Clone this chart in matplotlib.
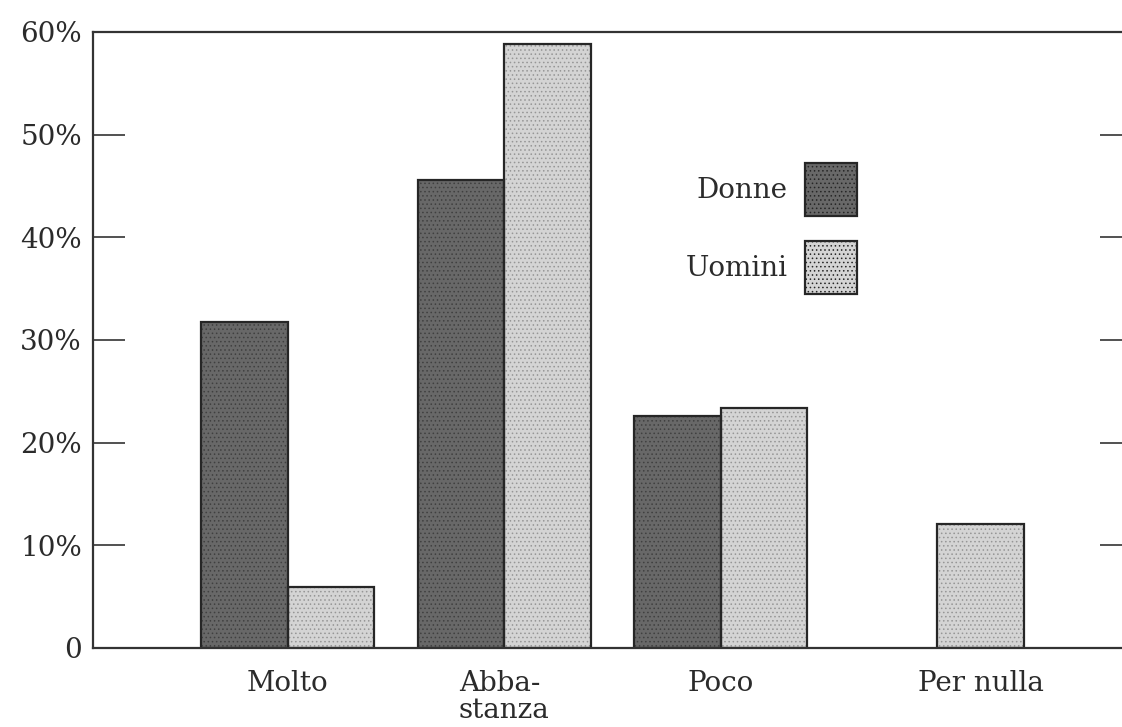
import matplotlib.pyplot as plt
import matplotlib.patches as mpatches
import numpy as np

# Dati
categorie = ["Molto", "Abba-\nstanza", "Poco", "Per nulla"]
donne = [31.8, 45.6, 22.6, 0.0]
uomini = [5.9, 58.8, 23.4, 12.1]
pos_etichette = [0, 1, 2, 3.2]   # "Per nulla" sta sotto la barra degli uomini
yticks = [0, 10, 20, 30, 40, 50, 60]
ytick_labels = ["0", "10%", "20%", "30%", "40%", "50%", "60%"]

plt.rcParams['font.family'] = ['DejaVu Serif']
plt.rcParams['font.size'] = 20
plt.rcParams['hatch.linewidth'] = 0.6

fig = plt.figure(figsize=(11.22, 7.27), dpi=100)
ax = fig.add_axes([93 / 1122, 79 / 727, 1039 / 1122, 616 / 727])

x = np.arange(len(categorie))
w = 0.4
col_donne, dot_donne = '#686868', '#404040'
col_uomini, dot_uomini = '#d4d4d4', '#969696'

# riempimento puntinato
ax.bar(x - w / 2, donne, w, color=col_donne, edgecolor=dot_donne, hatch='....', linewidth=0)
ax.bar(x + w / 2, uomini, w, color=col_uomini, edgecolor=dot_uomini, hatch='....', linewidth=0)
# contorni
for xi, v in zip(x - w / 2, donne):
    if v > 0:
        ax.bar(xi, v, w, facecolor='none', edgecolor='#262626', linewidth=1.6)
ax.bar(x + w / 2, uomini, w, facecolor='none', edgecolor='#262626', linewidth=1.6)

ax.set_xlim(-0.9, 3.9)
ax.set_ylim(0, 60)

ax.set_yticks(yticks)
ax.set_yticklabels(ytick_labels)
ax.tick_params(axis='y', direction='in', length=23, width=1.2, color='#333333',
               right=True, pad=8, labelcolor='#2b2b2b')
ax.set_xticks(pos_etichette)
ax.set_xticklabels(categorie, linespacing=1.0)
ax.tick_params(axis='x', length=0, pad=16, labelcolor='#2b2b2b')
for t in ax.get_xticklabels():
    t.set_multialignment('left')

for s in ax.spines.values():
    s.set_linewidth(1.6)
    s.set_color('#333333')

# legenda
h1 = mpatches.Patch(facecolor=col_donne, edgecolor='#262626', hatch='....', linewidth=1.6)
h2 = mpatches.Patch(facecolor=col_uomini, edgecolor='#262626', hatch='....', linewidth=1.6)
ax.legend([h1, h2], ["Donne", "Uomini"], loc='upper right',
          bbox_to_anchor=(882 / 1122, 1 - 138 / 727), bbox_transform=fig.transFigure,
          frameon=False, markerfirst=False, handlelength=1.86, handleheight=2.55,
          labelspacing=0.9, handletextpad=0.65, labelcolor='#2b2b2b')

fig.savefig("out.png", dpi=100)
